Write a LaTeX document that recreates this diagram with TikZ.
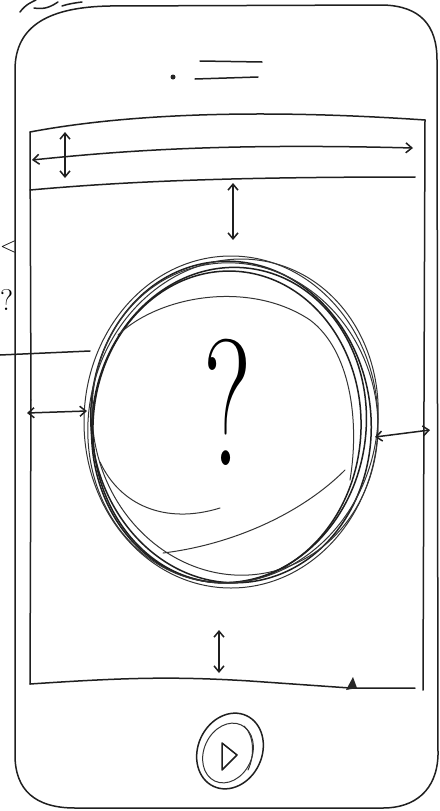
\documentclass[tikz,border=0pt]{standalone}
\usetikzlibrary{arrows.meta}
\begin{document}
\begin{tikzpicture}[x=1pt,y=-1pt,
  pen/.style={draw=black!88,line width=1.5pt,line cap=round,line join=round},
  thin pen/.style={draw=black!80,line width=1pt,line cap=round},
  dimarrow/.style={pen,{Straight Barb[length=6pt,width=10pt]}-{Straight Barb[length=6pt,width=10pt]}},
  onearrow/.style={pen,-{Straight Barb[length=6pt,width=10pt]}}]
\useasboundingbox (0,0) rectangle (439,811);
\clip (0,0) rectangle (439,811);
\fill[white] (0,0) rectangle (439,811);

% handwriting fragment at the top
\draw[pen] (20,12) .. controls (26,4) and (32,2) .. (36,0);
\draw[pen] (34,8) .. controls (45,10) and (52,6) .. (58,2);
\draw[pen] (62,6) .. controls (68,4) and (74,3) .. (82,2);

% left margin fragments
\node[font=\fontsize{22}{22}\selectfont,anchor=base west,inner sep=0pt] (lt) at (0,252) {<};
\node[font=\fontsize{30}{30}\selectfont,anchor=base west,inner sep=0pt] (lq) at (0,310) {?};

% phone body
\draw[pen] (15,70) .. controls (15,25) and (50,7) .. (110,6) -- (383,5)
  .. controls (420,6) and (437,25) .. (437,60) -- (438,755)
  .. controls (437,790) and (415,808) .. (383,808) -- (75,808)
  .. controls (35,808) and (15,790) .. (15,755) -- cycle;

% speaker
\fill[black!85] (173,77) circle (2.5);
\coordinate (s1a) at (200,61); \coordinate (s1b) at (262,62);
\coordinate (s2a) at (195,79); \coordinate (s2b) at (258,77);
\draw[pen] (s1a) -- (s1b);
\draw[pen] (s2a) -- (s2b);

% screen
\coordinate (tl) at (30,132); \coordinate (tr) at (425,120);
\coordinate (bl) at (30,684); \coordinate (br) at (423,690);
\draw[pen] (tl) .. controls (120,115) and (250,108) .. (tr);
\draw[pen] (tl) -- (31,400) -- (bl);
\draw[pen] (tr) -- (424,400) -- (br);
\draw[pen] (bl) .. controls (120,678) and (170,676) .. (250,681) -- (350,688) -- (415,688);
\fill[black!85] (346,690) -- (353,677) -- (357,688) -- cycle;

% status bar lines
\coordinate (b1l) at (32,160); \coordinate (b1r) at (413,148);
\coordinate (b2l) at (30,190); \coordinate (b2r) at (415,177);
\draw[dimarrow] (b1l) .. controls (120,151) and (220,143) .. (b1r);
\draw[pen] (b2l) .. controls (120,182) and (220,177) .. (b2r);

% vertical dimension arrows
\coordinate (v1t) at (65,132); \coordinate (v1b) at (65,178);
\draw[dimarrow] (v1t) -- (v1b);
\coordinate (v2t) at (233,183); \coordinate (v2b) at (233,240);
\draw[dimarrow] (v2t) -- (v2b);
\coordinate (v3t) at (219,630); \coordinate (v3b) at (219,673);
\draw[dimarrow] (v3t) -- (v3b);

% scribbled circle
\coordinate (c) at (231,422);
\draw[thin pen] (c) ellipse [x radius=147, y radius=166];
\draw[pen] (c) ellipse [x radius=140, y radius=161, rotate=6];
\draw[pen] (229,425) ellipse [x radius=137, y radius=158, rotate=-8];
\draw[thin pen] (235,419) ellipse [x radius=142, y radius=157, rotate=14];
\draw[pen] (227,427) ellipse [x radius=134, y radius=156, rotate=-3];
\draw[thin pen] (233,421) ellipse [x radius=144, y radius=163, rotate=-14];
% inner strokes
\draw[thin pen] (118,335) .. controls (160,295) and (250,280) .. (310,320)
  .. controls (350,350) and (360,420) .. (350,480);
\draw[thin pen] (100,462) .. controls (120,505) and (165,525) .. (220,508);
\draw[thin pen] (163,553) .. controls (230,545) and (300,515) .. (345,470);

% question mark
\node[font=\fontsize{180}{180}\selectfont,xscale=0.62,anchor=base] (q) at (228,465) {?};

% horizontal dimension arrows
\coordinate (h1l) at (27,413); \coordinate (h1r) at (87,411);
\draw[dimarrow] (h1l) -- (h1r);
\coordinate (h2l) at (375,437); \coordinate (h2r) at (430,430);
\draw[dimarrow] (h2l) -- (h2r);

% pointer line from the left
\coordinate (pl) at (0,355); \coordinate (pr) at (90,351);
\draw[pen] (pl) -- (pr);

% home button
\coordinate (hb) at (230,751);
\draw[pen] (hb) ellipse [x radius=32, y radius=39, rotate=-25];
\draw[thin pen] (228,753) ellipse [x radius=24, y radius=31, rotate=-25];
\draw[thin pen] (244,726) .. controls (254,735) and (255,755) .. (248,770);
\draw[pen] (222,743) -- (237,755) -- (222,770) -- cycle;
\end{tikzpicture}
\end{document}
